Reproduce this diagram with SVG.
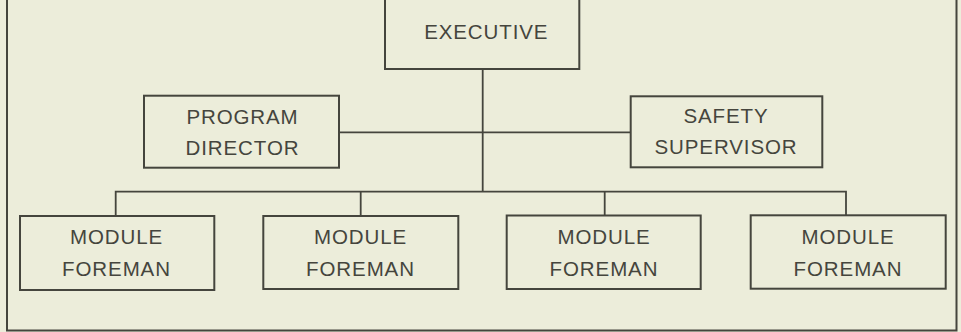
<svg xmlns="http://www.w3.org/2000/svg" width="961" height="332" viewBox="0 0 961 332">
<style>
.bg{fill:#ecedda}
.box{fill:none;stroke:#45453d;stroke-width:2}
.frame{fill:none;stroke:#45453d;stroke-width:2}
.conn{fill:none;stroke:#45453d;stroke-width:1.8}
.t{font-family:"Liberation Sans",Arial,sans-serif;font-size:20.5px;fill:#45453d;text-anchor:middle;letter-spacing:0.9px}
</style>
<rect class="bg" x="0" y="0" width="961" height="332"/>
<path class="frame" d="M7,0 V330.5 H956.5 V0"/>
<g id="connectors">
<path class="conn" d="M482.7,69 V191.7"/>
<path class="conn" d="M339,132.3 H630.7"/>
<path class="conn" d="M115.7,216 V191.7 H846 V216"/>
<path class="conn" d="M360.7,191.7 V216"/>
<path class="conn" d="M604.7,191.7 V216"/>
</g>
<g id="executive">
<rect class="box" x="385" y="-10" width="194.3" height="79"/>
<text class="t" x="486.3" y="39">EXECUTIVE</text>
</g>
<g id="program-director">
<rect class="box" x="144" y="95.7" width="195" height="72"/>
<text class="t" x="242.5" y="123.7">PROGRAM</text>
<text class="t" x="242.5" y="155">DIRECTOR</text>
</g>
<g id="safety-supervisor">
<rect class="box" x="630.7" y="96.3" width="191.6" height="71"/>
<text class="t" x="726" y="123.3">SAFETY</text>
<text class="t" x="726" y="154.3">SUPERVISOR</text>
</g>
<g id="module-foreman-1">
<rect class="box" x="20" y="216" width="194.3" height="74"/>
<text class="t" x="116.5" y="244">MODULE</text>
<text class="t" x="116.5" y="275.7">FOREMAN</text>
</g>
<g id="module-foreman-2">
<rect class="box" x="263.3" y="216" width="195" height="73"/>
<text class="t" x="360.5" y="244">MODULE</text>
<text class="t" x="360.5" y="275.7">FOREMAN</text>
</g>
<g id="module-foreman-3">
<rect class="box" x="506.7" y="215.5" width="194" height="73.5"/>
<text class="t" x="604" y="244">MODULE</text>
<text class="t" x="604" y="275.7">FOREMAN</text>
</g>
<g id="module-foreman-4">
<rect class="box" x="750.7" y="215.3" width="195" height="73.4"/>
<text class="t" x="848" y="244">MODULE</text>
<text class="t" x="848" y="275.7">FOREMAN</text>
</g>
</svg>
